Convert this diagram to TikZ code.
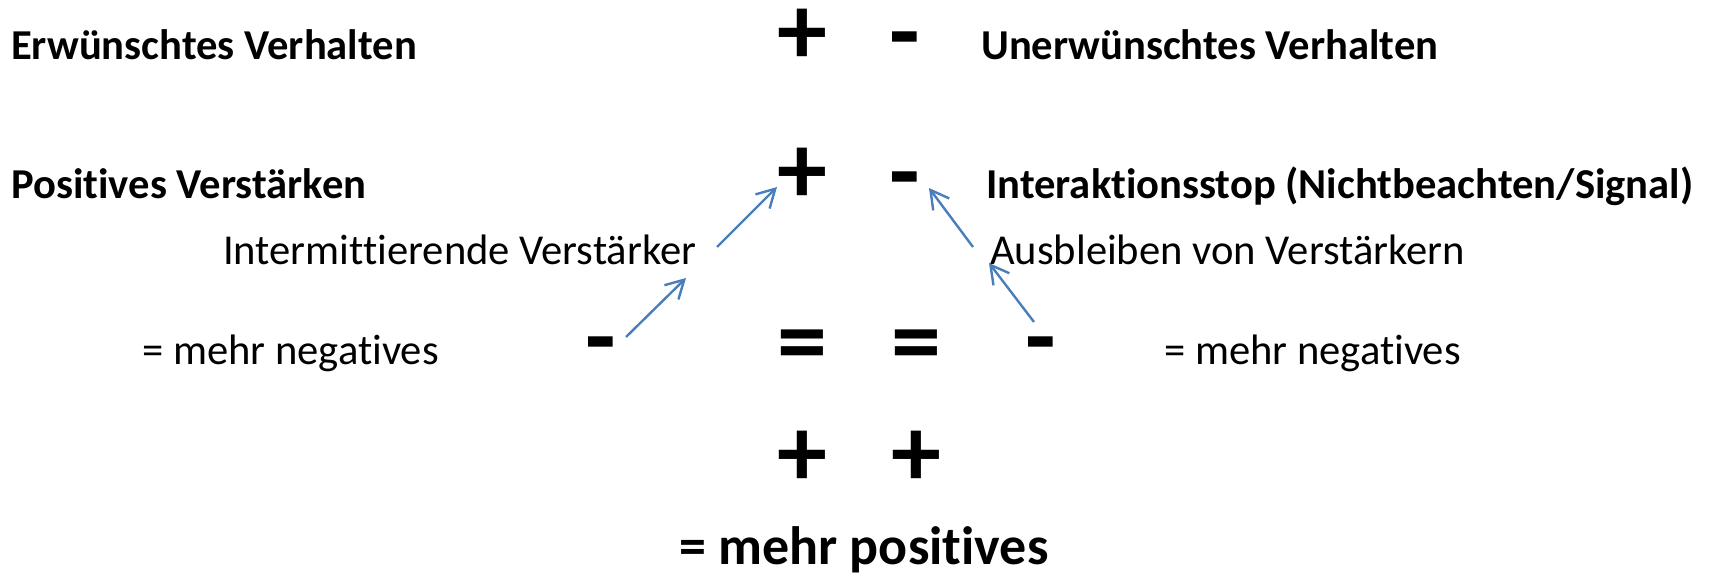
\documentclass[tikz,border=0pt]{standalone}
\usepackage{fontspec}
\setmainfont[Ligatures=NoCommon]{Carlito}
\usepackage{tikz}
\usetikzlibrary{arrows.meta,positioning}

\begin{document}
\begin{tikzpicture}[x=1pt,y=-1pt,
  txt/.style={inner sep=0pt,anchor=base west,font=\fontsize{42.6}{50}\selectfont},
  btxt/.style={txt,font=\fontsize{42.6}{50}\selectfont\bfseries},
  sign/.style={inner sep=0pt,anchor=center,font=\fontsize{100}{120}\selectfont\bfseries},
  pfeil/.style={draw={rgb,255:red,74;green,126;blue,187},line width=2.4pt,-{Straight Barb[length=18pt,width=20pt,line width=2.4pt]}}]
\useasboundingbox (0,0) rectangle (1709,575);

\node [btxt] (erw) at (11,60) {Erwünschtes Verhalten};
\node [btxt] (unerw) at (981,60) {Unerwünschtes Verhalten};
\node [sign] (p1) at (802,37) {+};
\node [sign] (m1) at (905,49) {-};

\node [btxt] (posv) at (11,198) {Positives Verstärken};
\node [btxt] (stop) at (986,198) {Interaktionsstop (Nichtbeachten/Signal)};
\node [sign] (p2) at (802,176) {+};
\node [sign] (m2) at (905,189) {-};

\node [txt] (interm) at (223,264) {Intermittierende Verstärker};
\node [txt] (ausbl) at (990,264) {Ausbleiben von Verstärkern};

\node [txt] (negl) at (142,364) {= mehr negatives};
\node [txt] (negr) at (1164,364) {= mehr negatives};
\node [sign] (m3) at (601,354) {-};
\node [sign] (eq1) at (802,352) {=};
\node [sign] (eq2) at (916,352) {=};
\node [sign] (m4) at (1041,354) {-};

\node [sign] (p3) at (802,459) {+};
\node [sign] (p4) at (916,459) {+};

\node [inner sep=0pt,anchor=base,font=\fontsize{54}{64}\selectfont\bfseries] (pos) at (864,564) {= mehr positives};

\coordinate (a1) at (717,247);
\coordinate (a2) at (777,187);
\coordinate (b1) at (626,337);
\coordinate (b2) at (686,278);
\coordinate (c1) at (973,247);
\coordinate (c2) at (929,188);
\coordinate (d1) at (1034,322);
\coordinate (d2) at (989,263);

\draw [pfeil] (a1)--(a2);
\draw [pfeil] (b1)--(b2);
\draw [pfeil] (c1)--(c2);
\draw [pfeil] (d1)--(d2);
\end{tikzpicture}
\end{document}
